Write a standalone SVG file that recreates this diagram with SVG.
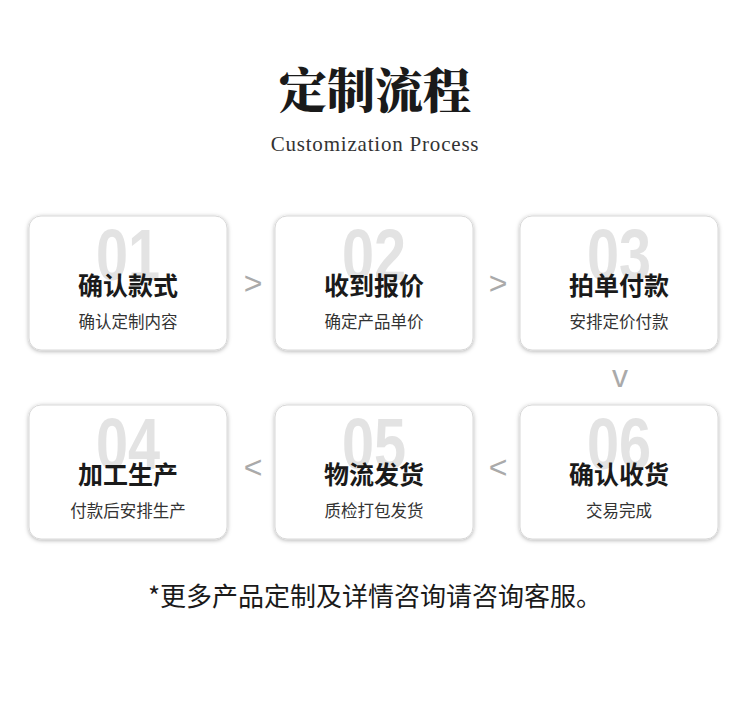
<svg xmlns="http://www.w3.org/2000/svg" width="750" height="713" viewBox="0 0 750 713">
<defs>
<filter id="sh" x="-10%" y="-10%" width="120%" height="120%"><feDropShadow dx="0" dy="1" stdDeviation="2" flood-color="#000" flood-opacity="0.3"/></filter>
</defs>
<style>
.box{fill:#fff;stroke:#d8d8d8;stroke-width:1;filter:url(#sh)}
.num{font-family:"Liberation Sans",sans-serif;font-weight:bold;font-size:72px;fill:#e3e3e3;text-anchor:middle}
.t{font-family:"Noto Sans CJK SC",sans-serif;font-weight:bold;font-size:25px;fill:#1a1a1a;text-anchor:middle}
.s{font-family:"Noto Sans CJK SC",sans-serif;font-size:16.5px;fill:#333;text-anchor:middle}
.ar{font-family:"Liberation Sans",sans-serif;font-size:32px;fill:#aaa;text-anchor:middle}
</style>
<rect width="750" height="713" fill="#fff"/>
<text x="375" y="108" font-family="Noto Serif CJK SC,Noto Sans CJK SC,serif" font-weight="900" font-size="48" fill="#1a1a1a" text-anchor="middle">定制流程</text>
<text x="375" y="151" font-family="Liberation Serif,serif" font-size="21" letter-spacing="0.8" fill="#333" text-anchor="middle">Customization Process</text>
<g id="n1"><rect class="box" x="29" y="216" width="198" height="134" rx="12"/><text class="num" transform="translate(128,280) scale(0.8,1)">01</text><text class="t" x="128" y="295">确认款式</text><text class="s" x="128" y="328">确认定制内容</text></g>
<g id="n2"><rect class="box" x="275" y="216" width="198" height="134" rx="12"/><text class="num" transform="translate(374,280) scale(0.8,1)">02</text><text class="t" x="374" y="295">收到报价</text><text class="s" x="374" y="328">确定产品单价</text></g>
<g id="n3"><rect class="box" x="520" y="216" width="198" height="134" rx="12"/><text class="num" transform="translate(619,280) scale(0.8,1)">03</text><text class="t" x="619" y="295">拍单付款</text><text class="s" x="619" y="328">安排定价付款</text></g>
<g id="n4"><rect class="box" x="29" y="405" width="198" height="134" rx="12"/><text class="num" transform="translate(128,469) scale(0.8,1)">04</text><text class="t" x="128" y="484">加工生产</text><text class="s" x="128" y="517">付款后安排生产</text></g>
<g id="n5"><rect class="box" x="275" y="405" width="198" height="134" rx="12"/><text class="num" transform="translate(374,469) scale(0.8,1)">05</text><text class="t" x="374" y="484">物流发货</text><text class="s" x="374" y="517">质检打包发货</text></g>
<g id="n6"><rect class="box" x="520" y="405" width="198" height="134" rx="12"/><text class="num" transform="translate(619,469) scale(0.8,1)">06</text><text class="t" x="619" y="484">确认收货</text><text class="s" x="619" y="517">交易完成</text></g>
<g id="connectors">
<text class="ar" x="253" y="294">&gt;</text>
<text class="ar" x="498" y="294">&gt;</text>
<text class="ar" x="620" y="387">v</text>
<text class="ar" x="253" y="478">&lt;</text>
<text class="ar" x="498" y="478">&lt;</text>
</g>
<text x="375" y="606" font-family="Noto Sans CJK SC,sans-serif" font-size="26" fill="#1a1a1a" text-anchor="middle">*更多产品定制及详情咨询请咨询客服。</text>
</svg>
